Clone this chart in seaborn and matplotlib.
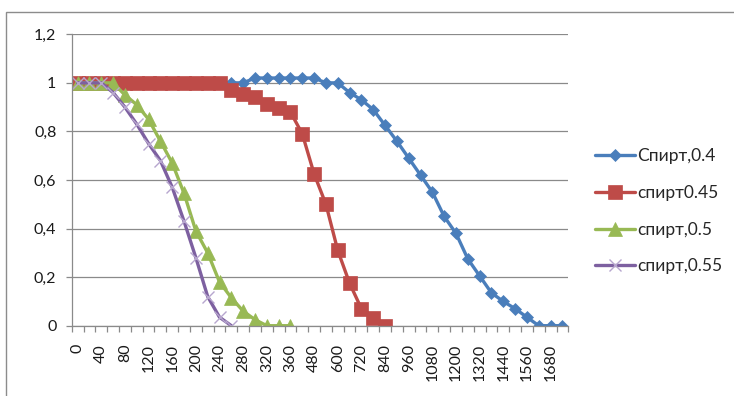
import numpy as np
import pandas as pd
import matplotlib
matplotlib.use("Agg")
import matplotlib.pyplot as plt
import seaborn as sns
from matplotlib.patches import Rectangle

# Sampling times (category axis): every 20 up to 360, then every 60
times = [0, 20, 40, 60, 80, 100, 120, 140, 160, 180, 200, 220, 240, 260, 280,
         300, 320, 340, 360, 420, 480, 540, 600, 660, 720, 780, 840, 900, 960,
         1020, 1080, 1140, 1200, 1260, 1320, 1380, 1440, 1500, 1560, 1620,
         1680, 1740]

spirt_040 = [1.0, 1.0, 1.0, 1.0, 1.0, 1.0, 1.0, 1.0, 1.0, 1.0, 1.0, 1.0, 1.0,
             1.0, 1.0, 1.02, 1.02, 1.02, 1.02, 1.02, 1.02, 1.0, 1.0, 0.96,
             0.93, 0.89, 0.825, 0.76, 0.69, 0.62, 0.55, 0.45, 0.38, 0.275,
             0.205, 0.135, 0.10, 0.07, 0.035, 0.0, 0.0, 0.0]
spirt_045 = [1.0, 1.0, 1.0, 1.0, 1.0, 1.0, 1.0, 1.0, 1.0, 1.0, 1.0, 1.0, 1.0,
             0.97, 0.955, 0.94, 0.915, 0.895, 0.88, 0.79, 0.625, 0.5, 0.31,
             0.175, 0.07, 0.03, 0.0]
spirt_050 = [1.0, 1.0, 1.0, 1.0, 0.95, 0.91, 0.85, 0.76, 0.67, 0.545, 0.39,
             0.30, 0.18, 0.115, 0.06, 0.025, 0.0, 0.0, 0.0]
spirt_055 = [1.0, 1.0, 1.0, 0.96, 0.90, 0.83, 0.75, 0.68, 0.57, 0.43, 0.28,
             0.12, 0.035, 0.0]

labels = ["Спирт,0.4", "спирт0.45", "спирт,0.5", "спирт,0.55"]
y_ticks = [0, 0.2, 0.4, 0.6, 0.8, 1.0, 1.2]
y_tick_labels = ["0", "0,2", "0,4", "0,6", "0,8", "1", "1,2"]

sns.set_theme(style="white")
plt.rcParams["font.family"] = ["Lato", "DejaVu Sans"]

fig = plt.figure(figsize=(7.34, 3.96), dpi=100)
ax = fig.add_axes([0.0977, 0.1775, 0.6766, 0.7359])

# Chart-area frame
fig.patches.append(Rectangle((6 / 734, -0.02), 1.1, 1 - 12 / 396 + 0.02,
                             transform=fig.transFigure, fill=False,
                             edgecolor="#8c8c8c", linewidth=1.0, zorder=0))

styles = [
    dict(color="#4A7EBB", marker="D", markersize=6.5, mec="#4A7EBB", mfc="#4A7EBB", mew=0.5),
    dict(color="#BE4B48", marker="s", markersize=9.5, mec="#BE4B48", mfc="#BE4B48", mew=0.5),
    dict(color="#98B954", marker="^", markersize=9.5, mec="#98B954", mfc="#98B954", mew=0.5),
    dict(color="#7D60A0", marker="x", markersize=8, mec="#B7A6CE", mew=1.0),
]

series = [spirt_040, spirt_045, spirt_050, spirt_055]
for vals, lab, st in zip(series, labels, styles):
    df = pd.DataFrame({"pos": np.arange(len(vals)), "value": vals})
    sns.lineplot(data=df, x="pos", y="value", ax=ax, label=lab,
                 linewidth=2.4, sort=False, **st)

# Axes styling
ax.set_xlim(-0.5, len(times) - 0.5)
ax.set_ylim(0, 1.2)
ax.set_yticks(y_ticks)
ax.set_yticklabels(y_tick_labels)
ax.set_xticks(np.arange(0, len(times), 2))
ax.set_xticklabels([str(t) for t in times[::2]], rotation=90)
ax.set_xticks(np.arange(-0.5, len(times), 1), minor=True)
ax.set_xlabel("")
ax.set_ylabel("")

ax.grid(axis="y", color="#8a8a8a", linewidth=0.9)
ax.grid(axis="x", visible=False)
ax.set_axisbelow(True)
for side in ["top", "right"]:
    ax.spines[side].set_visible(False)
for side in ["left", "bottom"]:
    ax.spines[side].set_color("#8a8a8a")
    ax.spines[side].set_linewidth(0.9)

ax.tick_params(axis="y", which="major", left=True, length=4, width=0.9,
               color="#8a8a8a", pad=7, labelsize=11.5, labelcolor="#1a1a1a")
ax.tick_params(axis="x", which="major", bottom=False, pad=7,
               labelsize=11.5, labelcolor="#1a1a1a")
ax.tick_params(axis="x", which="minor", bottom=True, length=4, width=0.9,
               color="#8a8a8a")

leg = ax.legend(loc="center left", bbox_to_anchor=(1.04, 0.393), frameon=False,
                fontsize=12.5, handlelength=2.3, handletextpad=0.1,
                labelspacing=1.2, borderaxespad=0)

fig.savefig("out.png", dpi=100, facecolor="white")
